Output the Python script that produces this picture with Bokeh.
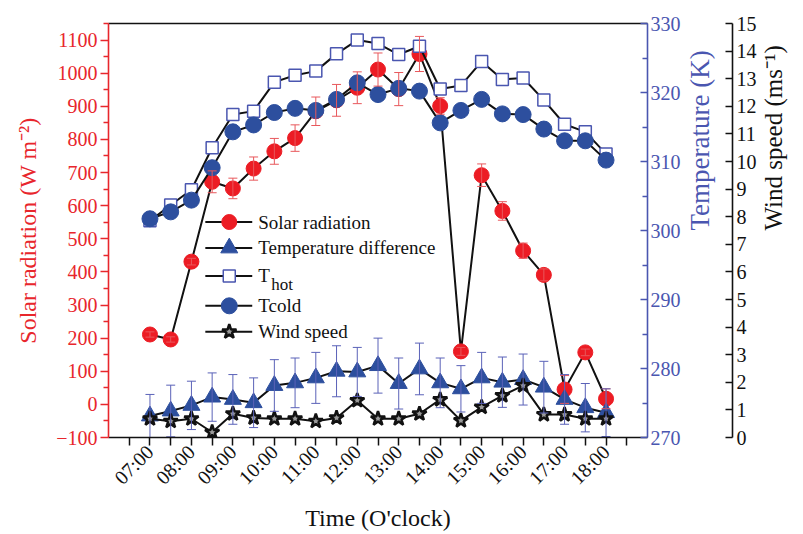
import math
from bokeh.plotting import figure
from bokeh.models import (Range1d, LinearAxis, FixedTicker, Whisker,
                          ColumnDataSource, TeeHead)
from bokeh.embed import file_html
from bokeh.resources import INLINE
from bokeh.core.properties import value

# ---------------- data ----------------
times = ["07:00", "07:30", "08:00", "08:30", "09:00", "09:30", "10:00", "10:30",
         "11:00", "11:30", "12:00", "12:30", "13:00", "13:30", "14:00", "14:30",
         "15:00", "15:30", "16:00", "16:30", "17:00", "17:30", "18:00"]
tick_hours = [7, 8, 9, 10, 11, 12, 13, 14, 15, 16, 17, 18]
tick_labels = ["07:00", "08:00", "09:00", "10:00", "11:00", "12:00",
               "13:00", "14:00", "15:00", "16:00", "17:00", "18:00"]

solar = [211, 196, 431, 672, 652, 712, 764, 804, 885, 918, 956, 1011,
         952, 1058, 901, 160, 692, 584, 464, 391, 45, 157, 17]
solar_err = [8, 8, 10, 33, 31, 35, 39, 40, 43, 48, 48, 50,
             50, 53, 25, 12, 34, 28, 23, 18, 42, 10, 30]
temp_diff = [-35, -20, -3, 22, 15, 5, 57, 65, 80, 100, 98, 117,
             63, 107, 65, 47, 80, 67, 75, 52, 15, -10, -25]
temp_diff_err = [65, 78, 73, 73, 75, 75, 78, 75, 77, 77, 74, 83,
                 77, 78, 75, 70, 77, 76, 77, 78, 75, 73, 72]
t_hot = [301.4, 303.7, 305.9, 312.0, 316.8, 317.3, 321.5, 322.5, 323.1, 325.6, 327.6, 327.1,
         325.5, 326.7, 320.5, 321.0, 324.5, 321.9, 322.1, 318.9, 315.4, 314.3, 311.1]
t_cold = [301.7, 302.7, 304.4, 309.1, 314.3, 315.3, 317.1, 317.7, 317.4, 319.0, 321.4, 319.7,
          320.6, 320.2, 315.6, 317.4, 319.0, 316.9, 316.8, 314.7, 313.0, 313.0, 310.2]
wind = [0.68, 0.59, 0.68, 0.19, 0.86, 0.71, 0.68, 0.68, 0.59, 0.71, 1.34, 0.68,
        0.68, 0.86, 1.37, 0.61, 1.10, 1.52, 1.88, 0.83, 0.83, 0.68, 0.68]

legend_labels = ["Solar radiation", "Temperature difference", "T", "Tcold", "Wind speed"]

# ---------------- styling ----------------
FONT = "Liberation Serif"
RED = "#ec1c24"
RED_AX = "#e8262c"
RED_ERR = "#e8585c"
BLUE = "#2d4f9e"
BLUE_AX = "#4a56b0"
BLUE_ERR = "#5a62b8"
BLACK = "#111111"

hours = [int(t[:2]) + int(t[3:]) / 60 for t in times]

p = figure(width=803, height=534, x_range=Range1d(6, 19), y_range=Range1d(-100, 1150),
           output_backend="svg", toolbar_location=None,
           min_border_left=108, min_border_right=155, min_border_top=23, min_border_bottom=96)
p.extra_y_ranges = {"temp": Range1d(270, 330), "wind": Range1d(0, 15)}
p.xgrid.visible = False
p.ygrid.visible = False
p.outline_line_color = None
p.background_fill_color = "white"
p.border_fill_color = "white"

# x axis
xa = p.xaxis[0]
xa.ticker = FixedTicker(ticks=tick_hours, minor_ticks=[h + 0.5 for h in [6] + tick_hours])
xa.major_label_overrides = {h: lab for h, lab in zip(tick_hours, tick_labels)}
xa.major_label_orientation = math.pi / 4
xa.axis_line_color = BLACK
xa.axis_line_width = 1.6
xa.major_tick_line_color = BLACK
xa.minor_tick_line_color = BLACK
xa.major_tick_line_width = 1.5
xa.minor_tick_line_width = 1.5
xa.major_tick_in = 0
xa.major_tick_out = 8
xa.minor_tick_in = 0
xa.minor_tick_out = 8
xa.major_label_text_font = FONT
xa.major_label_text_font_size = "20px"
xa.major_label_text_color = BLACK
xa.major_label_standoff = 3
xa.axis_label = "Time (O'clock)"
xa.axis_label_text_font = FONT
xa.axis_label_text_font_size = "24px"
xa.axis_label_text_font_style = "normal"
xa.axis_label_text_color = BLACK
xa.axis_label_standoff = 6

# left axis (solar radiation)
ya = p.yaxis[0]
ya.ticker = FixedTicker(ticks=list(range(-100, 1101, 100)), minor_ticks=list(range(-50, 1151, 100)))
ya.axis_line_color = RED_AX
ya.axis_line_width = 1.6
ya.major_tick_line_color = RED_AX
ya.minor_tick_line_color = RED_AX
ya.major_tick_line_width = 1.5
ya.minor_tick_line_width = 1.5
ya.major_tick_in = 0
ya.major_tick_out = 8
ya.minor_tick_in = 0
ya.minor_tick_out = 5
ya.major_label_text_font = FONT
ya.major_label_text_font_size = "20px"
ya.major_label_text_color = RED_AX
ya.major_label_standoff = 3
ya.axis_label = "Solar radiation (W m\u207b\u00b2)"
ya.axis_label_text_font = FONT
ya.axis_label_text_font_size = "24px"
ya.axis_label_text_font_style = "normal"
ya.axis_label_text_color = RED_AX
ya.axis_label_standoff = 12

# top frame line
top = LinearAxis(ticker=FixedTicker(ticks=[]), axis_line_color=BLACK, axis_line_width=1.6,
                 major_tick_out=0, major_tick_in=0, minor_tick_out=0, minor_tick_in=0,
                 major_label_standoff=0)
p.add_layout(top, "above")

# temperature axis
ta = LinearAxis(y_range_name="temp",
                ticker=FixedTicker(ticks=list(range(270, 331, 10)), minor_ticks=list(range(275, 330, 10))))
ta.axis_line_color = BLUE_AX
ta.axis_line_width = 1.6
ta.major_tick_line_color = BLUE_AX
ta.minor_tick_line_color = BLUE_AX
ta.major_tick_line_width = 1.5
ta.minor_tick_line_width = 1.5
ta.major_tick_in = 7
ta.major_tick_out = 0
ta.minor_tick_in = 5
ta.minor_tick_out = 0
ta.major_label_text_font = FONT
ta.major_label_text_font_size = "20px"
ta.major_label_text_color = BLUE_AX
ta.major_label_standoff = 3
ta.axis_label = "Temperature (K)"
ta.axis_label_text_font = FONT
ta.axis_label_text_font_size = "27px"
ta.axis_label_text_font_style = "normal"
ta.axis_label_text_color = BLUE_AX
ta.axis_label_standoff = 16
ta.axis_label_orientation = math.pi / 2
p.add_layout(ta, "right")

# spacer between temperature and wind axes
sp = LinearAxis(y_range_name="wind", ticker=FixedTicker(ticks=[]), axis_line_color=None,
                major_tick_line_color=None, minor_tick_line_color=None,
                major_tick_out=20, major_tick_in=0, minor_tick_out=0, minor_tick_in=0,
                major_label_standoff=0)
p.add_layout(sp, "right")

# wind axis
wa = LinearAxis(y_range_name="wind", ticker=FixedTicker(ticks=list(range(0, 16)), minor_ticks=[]))
wa.axis_line_color = BLACK
wa.axis_line_width = 1.6
wa.major_tick_line_color = BLACK
wa.major_tick_line_width = 1.5
wa.major_tick_in = 7
wa.major_tick_out = 0
wa.minor_tick_line_color = None
wa.major_label_text_font = FONT
wa.major_label_text_font_size = "20px"
wa.major_label_text_color = BLACK
wa.major_label_standoff = 4
wa.axis_label = "Wind speed (ms\u207b\u00b9)"
wa.axis_label_text_font = FONT
wa.axis_label_text_font_size = "25px"
wa.axis_label_text_font_style = "normal"
wa.axis_label_text_color = BLACK
wa.axis_label_standoff = 14
wa.axis_label_orientation = math.pi / 2
p.add_layout(wa, "right")

# ---------------- error bars ----------------
src_se = ColumnDataSource(dict(x=hours, lo=[v - e for v, e in zip(solar, solar_err)],
                               hi=[v + e for v, e in zip(solar, solar_err)]))
p.add_layout(Whisker(source=src_se, base="x", lower="lo", upper="hi", line_color=RED_ERR, line_width=1,
                     upper_head=TeeHead(size=9, line_color=RED_ERR, line_width=1),
                     lower_head=TeeHead(size=9, line_color=RED_ERR, line_width=1), level="glyph"))
src_te = ColumnDataSource(dict(x=hours, lo=[v - e for v, e in zip(temp_diff, temp_diff_err)],
                               hi=[v + e for v, e in zip(temp_diff, temp_diff_err)]))
p.add_layout(Whisker(source=src_te, base="x", lower="lo", upper="hi", line_color=BLUE_ERR, line_width=1,
                     upper_head=TeeHead(size=9, line_color=BLUE_ERR, line_width=1),
                     lower_head=TeeHead(size=9, line_color=BLUE_ERR, line_width=1), level="glyph"))

# ---------------- series ----------------
LW = 2
STAR_FILL = "#9a9a9a"
p.line(hours, solar, line_color=BLACK, line_width=LW)
p.scatter(hours, solar, marker="circle", size=15, fill_color=RED, line_color=RED)

p.line(hours, temp_diff, line_color=BLACK, line_width=LW)
p.scatter(hours, temp_diff, marker="triangle", size=17, fill_color=BLUE, line_color=BLUE)

p.line(hours, t_hot, line_color=BLACK, line_width=LW, y_range_name="temp")
p.scatter(hours, t_hot, marker="square", size=12, fill_color="white", line_color=BLUE_AX,
          line_width=1.5, y_range_name="temp")

p.line(hours, t_cold, line_color=BLACK, line_width=LW, y_range_name="temp")
p.scatter(hours, t_cold, marker="circle", size=16, fill_color=BLUE, line_color=BLUE, y_range_name="temp")

p.line(hours, wind, line_color=BLACK, line_width=LW, y_range_name="wind")
p.scatter(hours, wind, marker="star", size=15, fill_color=STAR_FILL, line_color=BLACK, line_width=2.5,
          y_range_name="wind")

# ---------------- legend (drawn manually) ----------------
def px_x(px):
    return 6 + (px - 108) * 13 / 540


def px_y(py):
    return 1150 - (py - 23) * 1250 / 415


rows = [222, 248, 276, 306, 332]
lx0, lx1, lmx, ltx = px_x(205), px_x(252), px_x(229), px_x(258)
for r in rows:
    p.line([lx0, lx1], [px_y(r), px_y(r)], line_color=BLACK, line_width=LW)
p.scatter([lmx], [px_y(rows[0])], marker="circle", size=15, fill_color=RED, line_color=RED)
p.scatter([lmx], [px_y(rows[1])], marker="triangle", size=17, fill_color=BLUE, line_color=BLUE)
p.scatter([lmx], [px_y(rows[2])], marker="square", size=12, fill_color="white", line_color=BLUE_AX,
          line_width=1.5)
p.scatter([lmx], [px_y(rows[3])], marker="circle", size=16, fill_color=BLUE, line_color=BLUE)
p.scatter([lmx], [px_y(rows[4])], marker="star", size=15, fill_color=STAR_FILL, line_color=BLACK,
          line_width=2.5)
p.text([ltx] * 5, [px_y(r) for r in rows], text=legend_labels, text_font=value(FONT),
       text_font_size="19px", text_color=BLACK, text_baseline="middle", text_align="left")
p.text([px_x(271)], [px_y(285)], text=["hot"], text_font=value(FONT),
       text_font_size="17px", text_color=BLACK, text_baseline="middle", text_align="left")

open("out.html", "w").write(file_html(p, INLINE))
